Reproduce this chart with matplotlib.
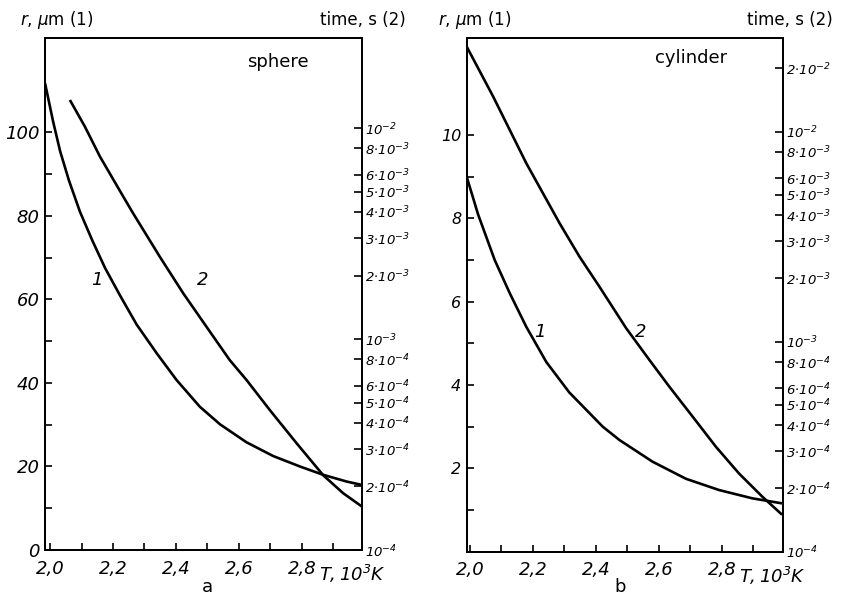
import numpy as np
import matplotlib.pyplot as plt
from matplotlib.ticker import FixedLocator, NullFormatter, NullLocator

plt.rcParams['font.family'] = 'DejaVu Sans'
plt.rcParams['mathtext.fontset'] = 'custom'
plt.rcParams['mathtext.rm'] = 'DejaVu Sans:italic'
plt.rcParams['mathtext.it'] = 'DejaVu Sans:italic'

# sphere (a): curve 1 = radius (left axis), curve 2 = time (right axis)
sph_T1 = [1.984, 2.01, 2.032, 2.06, 2.095, 2.135, 2.175, 2.222, 2.275, 2.339, 2.402, 2.476, 2.54,
          2.624, 2.709, 2.794, 2.868, 2.942, 2.99]
sph_r = [111.8, 102.5, 95.5, 88.5, 81.0, 74.0, 67.5, 61.0, 54.0, 47.1, 40.7, 34.3, 30.1,
         25.8, 22.5, 20.0, 18.0, 16.4, 15.6]
sph_T2 = [2.063, 2.11, 2.159, 2.233, 2.264, 2.349, 2.423, 2.497, 2.571, 2.624, 2.698,
          2.783, 2.868, 2.931, 2.99]
sph_t = [1.358e-2, 1.02e-2, 7.3e-3, 4.72e-3, 3.94e-3, 2.45e-3, 1.648e-3, 1.143e-3, 7.94e-4, 6.4e-4, 4.61e-4,
         3.21e-4, 2.26e-4, 1.86e-4, 1.61e-4]

# cylinder (b)
cyl_T1 = [1.99, 2.026, 2.079, 2.127, 2.179, 2.243, 2.316, 2.422, 2.475, 2.58,
          2.686, 2.791, 2.897, 2.991]
cyl_r = [9.0, 8.1, 7.0, 6.2, 5.4, 4.55, 3.82, 3.0, 2.68, 2.16,
         1.75, 1.48, 1.28, 1.16]
cyl_T2 = [1.99, 2.074, 2.179, 2.285, 2.348, 2.411, 2.496, 2.57, 2.633, 2.707,
          2.781, 2.854, 2.928, 2.991]
cyl_t = [2.54e-2, 1.469e-2, 7.08e-3, 3.66e-3, 2.54e-3, 1.83e-3, 1.16e-3, 8.18e-4, 6.11e-4, 4.4e-4,
         3.16e-4, 2.36e-4, 1.83e-4, 1.5e-4]

x_ticks = [2.0, 2.1, 2.2, 2.3, 2.4, 2.5, 2.6, 2.7, 2.8, 2.9]
x_labels = ['2,0', '', '2,2', '', '2,4', '', '2,6', '', '2,8', '']

t_ticks = [1e-4, 2e-4, 3e-4, 4e-4, 5e-4, 6e-4, 8e-4, 1e-3, 2e-3, 3e-3, 4e-3, 5e-3, 6e-3, 8e-3, 1e-2]
t_labels = [r'$10^{-4}$', r'$2{\cdot}10^{-4}$', r'$3{\cdot}10^{-4}$', r'$4{\cdot}10^{-4}$',
            r'$5{\cdot}10^{-4}$', r'$6{\cdot}10^{-4}$', r'$8{\cdot}10^{-4}$', r'$10^{-3}$',
            r'$2{\cdot}10^{-3}$', r'$3{\cdot}10^{-3}$', r'$4{\cdot}10^{-3}$', r'$5{\cdot}10^{-3}$',
            r'$6{\cdot}10^{-3}$', r'$8{\cdot}10^{-3}$', r'$10^{-2}$']

fig = plt.figure(figsize=(8.43, 5.97), dpi=100)
axa = fig.add_axes([0.0534, 0.0787, 0.376, 0.8576])
axb = fig.add_axes([0.5536, 0.0759, 0.3756, 0.8604])


def setup(ax, xlim, ylim, tlim, yt_major, yt_minor, ylabs, ylab_size, extra_t=None):
    ax.set_xlim(*xlim)
    ax.set_ylim(*ylim)
    ax.set_xticks(x_ticks)
    ax.set_xticklabels(x_labels, fontsize=13, fontstyle='italic')
    ax.set_yticks(yt_major)
    ax.set_yticklabels(ylabs, fontsize=ylab_size, fontstyle='italic')
    ax.yaxis.set_minor_locator(FixedLocator(yt_minor))
    ax.tick_params(direction='in', length=5, width=1.2, top=False, right=False)
    ax.tick_params(axis='y', which='minor', direction='in', length=5, width=1.2)
    ax.tick_params(axis='x', pad=7)
    ax.tick_params(axis='y', pad=4)
    for s in ax.spines.values():
        s.set_linewidth(1.3)
    ax.text(2.96, -0.025, r'$T,10^3K$', transform=ax.get_xaxis_transform(),
            ha='center', va='top', fontsize=13)

    tx = ax.twinx()
    tx.set_yscale('log')
    tx.set_ylim(*tlim)
    ticks = list(t_ticks)
    labs = list(t_labels)
    if extra_t:
        ticks.append(extra_t[0])
        labs.append(extra_t[1])
    tx.yaxis.set_major_locator(FixedLocator(ticks))
    tx.set_yticklabels(labs, fontsize=9.5)
    tx.yaxis.set_minor_locator(NullLocator())
    tx.yaxis.set_minor_formatter(NullFormatter())
    tx.tick_params(direction='in', length=6, width=1.2, pad=2)
    for s in tx.spines.values():
        s.set_linewidth(1.3)
    return tx


line = dict(color='black', lw=1.9, solid_capstyle='butt', solid_joinstyle='round')

ta = setup(axa, (1.984, 2.991), (0, 122.6), (1e-4, 0.0267),
           [0, 20, 40, 60, 80, 100], [10, 30, 50, 70, 90],
           ['0', '20', '40', '60', '80', '100'], 13)
axa.plot(sph_T1, sph_r, **line)
ta.plot(sph_T2, sph_t, **line)
axa.text(0.735, 0.953, 'sphere', transform=axa.transAxes, ha='center', va='center', fontsize=13)
axa.text(2.148, 64.7, '1', fontsize=13, fontstyle='italic', ha='center', va='center')
axa.text(2.486, 64.7, '2', fontsize=13, fontstyle='italic', ha='center', va='center')

tb = setup(axb, (1.99, 2.995), (0, 12.33), (1e-4, 0.0279),
           [2, 4, 6, 8, 10], [1, 3, 5, 7, 9],
           ['2', '4', '6', '8', '10'], 11.5,
           extra_t=(2e-2, r'$2{\cdot}10^{-2}$'))
axb.plot(cyl_T1, cyl_r, **line)
tb.plot(cyl_T2, cyl_t, **line)
axb.text(0.708, 0.961, 'cylinder', transform=axb.transAxes, ha='center', va='center', fontsize=13)
axb.text(2.222, 5.28, '1', fontsize=13, fontstyle='italic', ha='center', va='center')
axb.text(2.543, 5.28, '2', fontsize=13, fontstyle='italic', ha='center', va='center')

# axis titles above the panels
for x0, x1 in [(0.024, 0.481), (0.52, 0.988)]:
    fig.text(x0, 0.966, r'$r$, $\mu$m (1)', fontsize=12, ha='left', va='center')
    fig.text(x1, 0.966, 'time, s (2)', fontsize=12, ha='right', va='center')

fig.text(207 / 843, 1 - 587 / 597, 'a', fontsize=13, ha='center', va='center')
fig.text(620 / 843, 1 - 587 / 597, 'b', fontsize=13, ha='center', va='center')

fig.savefig('out.png', dpi=100)
